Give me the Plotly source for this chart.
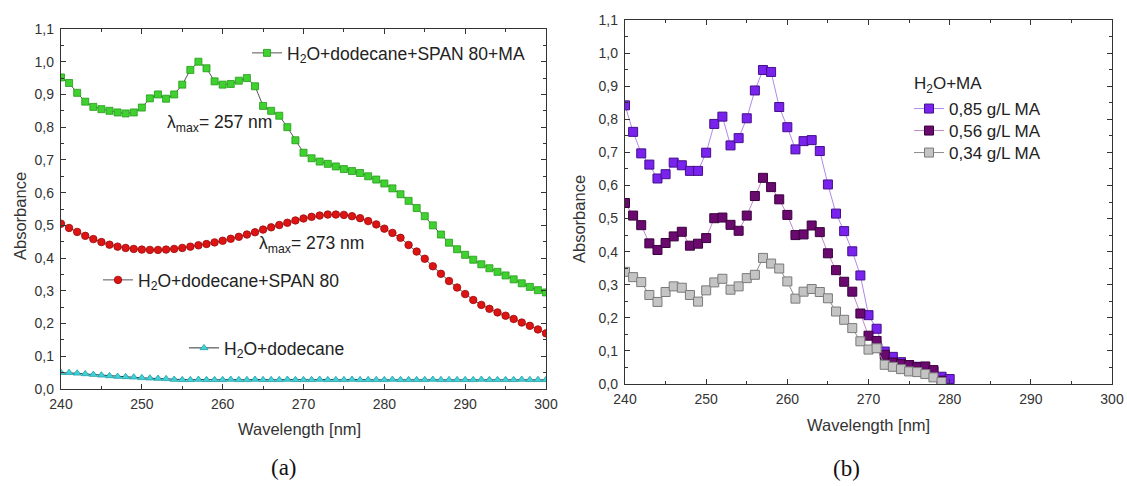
import plotly.graph_objects as go

# ---------------- data: panel (a) ----------------
wl_a = list(range(240, 301))
green_ma = [0.952, 0.935, 0.905, 0.878, 0.862, 0.855, 0.850, 0.845, 0.842, 0.845,
            0.860, 0.888, 0.900, 0.887, 0.900, 0.930, 0.975, 1.000, 0.980, 0.940,
            0.930, 0.932, 0.942, 0.950, 0.925, 0.865, 0.850, 0.835, 0.800, 0.760,
            0.722, 0.705, 0.695, 0.688, 0.680, 0.672, 0.666, 0.660, 0.650, 0.640,
            0.628, 0.613, 0.595, 0.575, 0.553, 0.528, 0.500, 0.472, 0.447, 0.427,
            0.410, 0.395, 0.381, 0.369, 0.358, 0.347, 0.335, 0.323, 0.312, 0.302,
            0.295]
red_span = [0.505, 0.492, 0.480, 0.468, 0.458, 0.449, 0.441, 0.435, 0.431, 0.428,
            0.426, 0.425, 0.425, 0.426, 0.428, 0.431, 0.435, 0.439, 0.443, 0.448,
            0.453, 0.459, 0.465, 0.472, 0.479, 0.487, 0.494, 0.501, 0.508, 0.515,
            0.521, 0.526, 0.530, 0.533, 0.533, 0.532, 0.528, 0.522, 0.513, 0.503,
            0.490, 0.477, 0.462, 0.440, 0.420, 0.398, 0.375, 0.352, 0.330, 0.310,
            0.290, 0.272, 0.257, 0.245, 0.234, 0.224, 0.214, 0.203, 0.193, 0.182,
            0.170]
cyan_dod = [0.050, 0.050, 0.048, 0.046, 0.044, 0.042, 0.040, 0.038, 0.037, 0.036,
            0.034, 0.033, 0.032, 0.031, 0.029, 0.028, 0.028, 0.029, 0.028, 0.028,
            0.028, 0.029, 0.028, 0.028, 0.029, 0.028, 0.028, 0.028, 0.029, 0.028,
            0.028, 0.028, 0.029, 0.028, 0.028, 0.028, 0.029, 0.028, 0.028, 0.028,
            0.028, 0.029, 0.028, 0.028, 0.028, 0.028, 0.029, 0.028, 0.028, 0.028,
            0.028, 0.028, 0.029, 0.028, 0.028, 0.028, 0.028, 0.029, 0.028, 0.028,
            0.028]

# ---------------- data: panel (b) ----------------
wl_b85 = list(range(240, 281))
ma_085 = [0.842, 0.762, 0.697, 0.663, 0.621, 0.634, 0.669, 0.661, 0.644, 0.644,
          0.699, 0.786, 0.808, 0.721, 0.743, 0.803, 0.887, 0.949, 0.943, 0.837,
          0.776, 0.709, 0.734, 0.737, 0.704, 0.603, 0.515, 0.462, 0.401, 0.328,
          0.208, 0.167, 0.098, 0.082, 0.066, 0.057, 0.052, 0.043, 0.038, 0.022,
          0.015]
wl_b56 = list(range(240, 280))
ma_056 = [0.547, 0.509, 0.480, 0.425, 0.405, 0.426, 0.446, 0.460, 0.418, 0.424,
          0.441, 0.501, 0.503, 0.481, 0.463, 0.509, 0.568, 0.623, 0.595, 0.558,
          0.511, 0.450, 0.452, 0.479, 0.459, 0.395, 0.344, 0.309, 0.279, 0.213,
          0.146, 0.130, 0.088, 0.065, 0.060, 0.057, 0.051, 0.053, 0.042, 0.010]
wl_b34 = list(range(240, 280))
ma_034 = [0.339, 0.323, 0.308, 0.269, 0.248, 0.278, 0.295, 0.291, 0.269, 0.249,
          0.283, 0.307, 0.318, 0.285, 0.295, 0.320, 0.330, 0.381, 0.364, 0.349,
          0.310, 0.258, 0.279, 0.287, 0.278, 0.259, 0.219, 0.194, 0.169, 0.129,
          0.104, 0.108, 0.058, 0.052, 0.045, 0.038, 0.036, 0.030, 0.020, 0.006]

x_ticks = [240, 250, 260, 270, 280, 290, 300]
y_ticks = [0.0, 0.1, 0.2, 0.3, 0.4, 0.5, 0.6, 0.7, 0.8, 0.9, 1.0, 1.1]

SANS = "Liberation Sans, Arial, sans-serif"
SERIF = "Liberation Serif, Times New Roman, serif"
W, H = 1127, 486
LEG_FS = 17.5
LEG_FS_B = 17
TXT = "#222"

fig = go.Figure()

# panel (a)
fig.add_trace(go.Scatter(x=wl_a, y=green_ma, mode="lines+markers", showlegend=True,
                         name="H<sub>2</sub>O+dodecane+SPAN 80+MA", legend="legend",
                         line=dict(color="#555555", width=1),
                         marker=dict(symbol="square", size=7, color="#3fd12f",
                                     line=dict(color="#239a18", width=0.8)),
                         xaxis="x", yaxis="y"))
fig.add_trace(go.Scatter(x=wl_a, y=red_span, mode="lines+markers", showlegend=True,
                         name="H<sub>2</sub>O+dodecane+SPAN 80", legend="legend2",
                         line=dict(color="#555555", width=1),
                         marker=dict(symbol="circle", size=7.5, color="#dd1414",
                                     line=dict(color="#9a0a0a", width=0.8)),
                         xaxis="x", yaxis="y"))
fig.add_trace(go.Scatter(x=wl_a, y=cyan_dod, mode="lines+markers", showlegend=True,
                         name="H<sub>2</sub>O+dodecane", legend="legend3",
                         line=dict(color="#333333", width=1),
                         marker=dict(symbol="triangle-up", size=7, color="#40d2da",
                                     line=dict(color="#1e9ea6", width=0.8)),
                         xaxis="x", yaxis="y"))

# panel (b)
fig.add_trace(go.Scatter(x=wl_b85, y=ma_085, mode="lines+markers", showlegend=True,
                         name="0,85 g/L MA", legend="legend4",
                         line=dict(color="#b08ae8", width=1),
                         marker=dict(symbol="square", size=9, color="#7a22ee",
                                     line=dict(color="#44108a", width=1)),
                         xaxis="x2", yaxis="y2"))
fig.add_trace(go.Scatter(x=wl_b56, y=ma_056, mode="lines+markers", showlegend=True,
                         name="0,56 g/L MA", legend="legend5",
                         line=dict(color="#c08ac8", width=1),
                         marker=dict(symbol="square", size=9, color="#6a0a6e",
                                     line=dict(color="#3a003e", width=1)),
                         xaxis="x2", yaxis="y2"))
fig.add_trace(go.Scatter(x=wl_b34, y=ma_034, mode="lines+markers", showlegend=True,
                         name="0,34 g/L MA", legend="legend6",
                         line=dict(color="#8c8c8c", width=1),
                         marker=dict(symbol="square", size=9, color="#c4c4c4",
                                     line=dict(color="#7a7a7a", width=1)),
                         xaxis="x2", yaxis="y2"))

def xax(domain, anchor):
    return dict(domain=domain, anchor=anchor, range=[240, 300], tickvals=x_ticks,
                ticktext=[str(v) for v in x_ticks], ticks="inside", ticklen=5,
                tickwidth=1, tickcolor="#333", showline=True, linecolor="#333",
                linewidth=1.2, mirror="allticks", showgrid=False, zeroline=False,
                minor=dict(tickvals=[245, 255, 265, 275, 285, 295], ticks="inside",
                           ticklen=3, tickcolor="#333"),
                tickfont=dict(family=SANS, size=14, color="#333"),
                ticklabelstandoff=2, automargin=False, fixedrange=True)

def yax(domain, anchor):
    return dict(domain=domain, anchor=anchor, range=[0, 1.1], tickvals=y_ticks,
                ticktext=[f"{v:.1f}".replace(".", ",") for v in y_ticks],
                ticks="inside", ticklen=5, tickwidth=1, tickcolor="#333",
                showline=True, linecolor="#333", linewidth=1.2, mirror="allticks",
                showgrid=False, zeroline=False,
                minor=dict(tickvals=[round(v + 0.05, 2) for v in y_ticks[:-1]],
                           ticks="inside", ticklen=3, tickcolor="#333"),
                tickfont=dict(family=SANS, size=14, color="#333"),
                ticklabelstandoff=3, automargin=False, fixedrange=True)

def px_x(p):
    return p / W

def px_y(p):
    return 1 - p / H

def leg(xp, yp, fs=LEG_FS):
    return dict(bgcolor="rgba(0,0,0,0)", borderwidth=0,
                font=dict(family=SANS, size=fs, color=TXT),
                xanchor="left", yanchor="middle", itemclick=False,
                x=px_x(xp), y=px_y(yp))

fig.update_layout(
    width=W, height=H, autosize=False, showlegend=True,
    margin=dict(l=0, r=0, t=0, b=0),
    paper_bgcolor="white", plot_bgcolor="white",
    xaxis=xax([px_x(61), px_x(546)], "y"),
    yaxis=yax([px_y(389), px_y(29)], "x"),
    xaxis2=xax([px_x(625), px_x(1112)], "y2"),
    yaxis2=yax([px_y(384), px_y(20)], "x2"),
    legend=leg(247, 53),
    legend2=leg(98, 280),
    legend3=leg(184, 348),
    legend4=leg(909, 109, LEG_FS_B),
    legend5=leg(909, 131, LEG_FS_B),
    legend6=leg(909, 153, LEG_FS_B),
)

annos = [
    dict(text="λ<sub>max</sub>= 257 nm", x=259.6, y=0.812, xref="x", yref="y",
         font=dict(family=SANS, size=LEG_FS, color=TXT)),
    dict(text="λ<sub>max</sub>= 273 nm", x=271.0, y=0.442, xref="x", yref="y",
         font=dict(family=SANS, size=LEG_FS, color=TXT)),
    dict(text="H<sub>2</sub>O+MA", x=px_x(912), y=px_y(85), xref="paper",
         yref="paper", xanchor="left",
         font=dict(family=SANS, size=LEG_FS_B, color=TXT)),
    dict(text="Absorbance", x=px_x(20), y=px_y(216), xref="paper", yref="paper",
         textangle=-90, font=dict(family=SANS, size=16.5, color="#333")),
    dict(text="Absorbance", x=px_x(579), y=px_y(219), xref="paper", yref="paper",
         textangle=-90, font=dict(family=SANS, size=16.5, color="#333")),
    dict(text="Wavelength [nm]", x=269.5, y=px_y(429), xref="x", yref="paper",
         font=dict(family=SANS, size=16.5, color="#333")),
    dict(text="Wavelength [nm]", x=270.0, y=px_y(425), xref="x2", yref="paper",
         font=dict(family=SANS, size=16.5, color="#333")),
    dict(text="(a)", x=267.6, y=px_y(467), xref="x", yref="paper",
         font=dict(family=SERIF, size=23, color="#111")),
    dict(text="(b)", x=267.3, y=px_y(468), xref="x2", yref="paper",
         font=dict(family=SERIF, size=23, color="#111")),
]
for a in annos:
    a.setdefault("showarrow", False)
    a.setdefault("xanchor", "center")
    a.setdefault("yanchor", "middle")
fig.update_layout(annotations=annos)

fig.write_html("out.html",
               config={"displayModeBar": False, "staticPlot": True},
               post_script="document.body.style.margin='0';document.body.style.overflow='hidden';")
